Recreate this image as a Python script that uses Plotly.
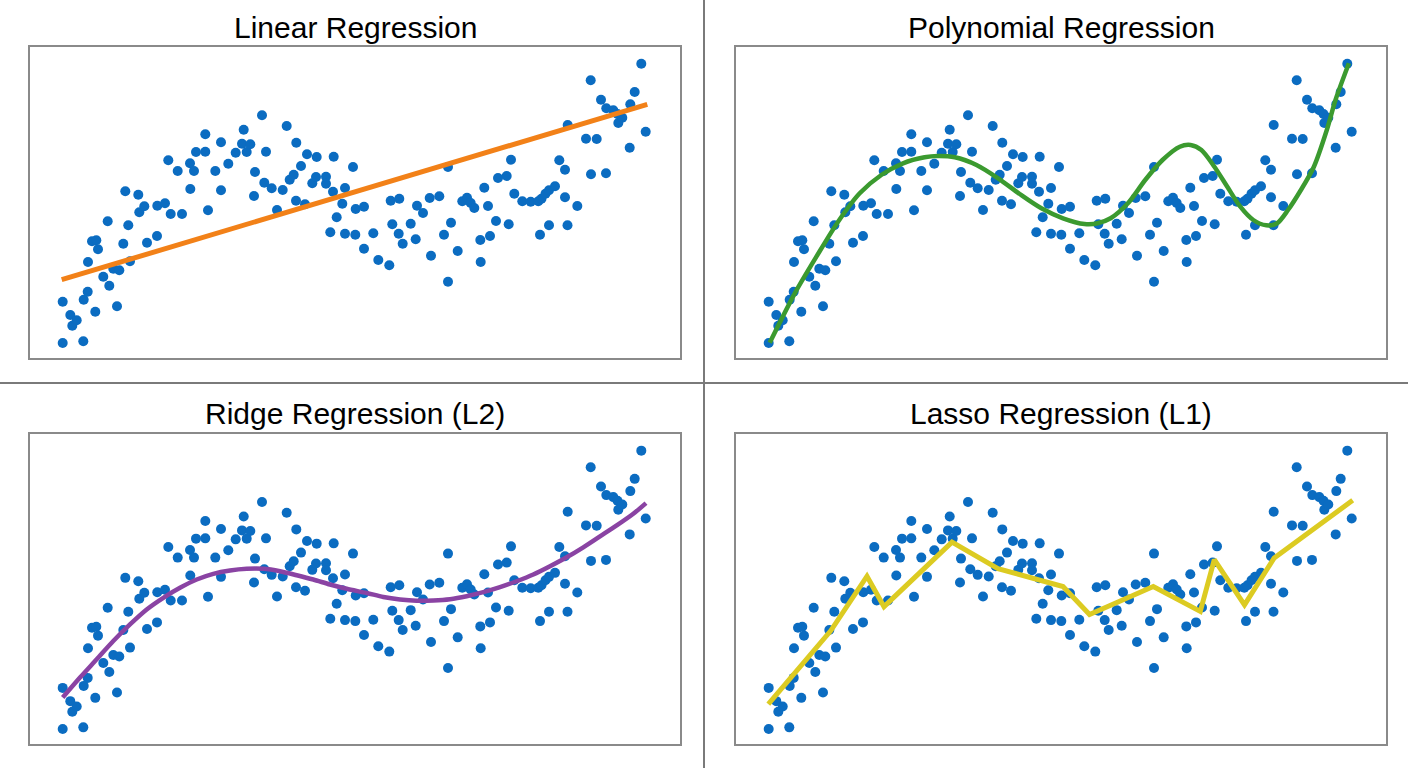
import plotly.graph_objects as go

# Scatter data (shared by all four panels), arbitrary units
x_pts = [3.27, 3.27, 4.03, 4.23, 4.67, 5.33, 5.37, 5.77, 5.80, 6.20, 6.53, 6.63, 6.80, 7.33, 7.77, 7.93,
         8.33, 8.70, 8.93, 9.33, 9.53, 9.83, 10.00, 10.83, 10.93, 11.43, 11.70, 12.70, 12.73, 13.50, 13.83,
         14.07, 14.77, 15.20, 16.00, 16.03, 16.40, 16.60, 17.53, 17.53, 17.80, 18.53, 19.10, 19.10, 19.83,
         20.57, 21.20, 21.37, 21.67, 22.03, 22.40, 22.50, 23.20, 23.43, 23.60, 24.17, 24.70, 25.27, 25.67,
         25.97, 26.37, 26.60, 26.63, 27.10, 27.50, 27.70, 28.23, 28.60, 28.67, 29.60, 29.60, 30.03, 30.30,
         30.37, 30.67, 31.23, 31.50, 31.50, 32.30, 32.53, 32.57, 33.40, 33.40, 34.33, 34.83, 35.93, 36.07,
         36.23, 36.87, 36.93, 37.27, 38.07, 38.57, 38.70, 39.30, 39.97, 40.10, 40.93, 41.40, 41.80, 41.80,
         42.10, 42.77, 43.23, 43.70, 44.07, 44.43, 45.03, 45.07, 45.43, 45.80, 46.00, 46.60, 46.80, 47.67,
         47.87, 48.10, 48.43, 49.23, 50.07, 50.83, 51.00, 51.15, 51.55, 51.90, 51.90, 52.50, 52.93, 53.50,
         53.50, 53.75, 53.77, 54.73, 55.60, 56.07, 56.10, 56.67, 57.10, 57.60, 57.63, 58.33, 58.75, 58.83,
         59.23, 59.97, 60.03, 60.47, 61.13, 61.57]
y_pts = [5.63, 1.50, 4.30, 3.23, 3.77, 1.67, 5.83, 6.63, 9.60, 11.67, 4.63, 11.77, 10.87, 8.13, 13.67, 7.23,
         8.93, 5.17, 8.77, 11.43, 16.67, 13.27, 9.67, 16.33, 14.57, 15.17, 11.53, 12.20, 15.23, 15.47, 19.77,
         14.40, 18.70, 14.40, 19.47, 16.90, 18.70, 20.60, 20.63, 22.37, 14.77, 18.70, 21.57, 16.77, 19.43,
         20.53, 21.43, 22.83, 20.60, 21.37, 16.20, 18.60, 24.27, 17.53, 20.63, 16.97, 14.80, 16.80, 23.20,
         17.83, 18.33, 15.73, 21.53, 19.20, 15.37, 20.37, 17.47, 18.10, 20.10, 18.13, 17.43, 12.57, 16.63,
         20.13, 14.07, 15.43, 17.00, 12.43, 19.10, 12.33, 14.90, 15.13, 10.93, 12.47, 9.80, 9.27, 15.73,
         13.37, 12.43, 15.93, 11.43, 13.43, 11.87, 15.23, 14.50, 16.00, 10.23, 16.17, 12.33, 19.10, 7.63,
         13.53, 10.70, 15.67, 16.03, 15.50, 15.00, 11.80, 9.60, 17.03, 15.20, 12.20, 13.70, 18.00, 18.20,
         13.37, 19.83, 16.43, 15.67, 15.63, 15.67, 12.33, 15.93, 16.43, 13.27, 16.77, 17.17, 19.77, 18.83,
         16.07, 13.27, 23.30, 15.20, 21.93, 27.77, 18.37, 21.90, 25.83, 18.47, 24.97, 24.77, 24.40, 23.50,
         24.03, 21.03, 25.37, 26.60, 29.43, 22.63]

# Linear fit
lin_x = [3.17, 61.73]
lin_y = [7.83, 25.37]

# Polynomial fit curve
poly_x = [3.37, 5.88, 8.04, 10.21, 12.37, 14.53, 16.70, 18.86, 20.16, 21.89, 24.05, 26.21, 28.37, 30.54,
          32.70, 34.86, 36.16, 37.46, 39.19, 40.92, 42.65, 44.38, 45.46, 46.54, 47.84, 49.13, 50.43, 51.73,
          53.03, 54.11, 55.20, 56.49, 57.79, 59.08, 59.95, 61.29]
poly_y = [1.53, 6.47, 10.13, 13.63, 16.47, 18.30, 19.47, 20.07, 20.20, 20.07, 19.30, 17.97, 16.40, 14.97,
          13.97, 13.40, 13.47, 13.97, 15.47, 17.80, 19.80, 21.13, 21.30, 20.80, 19.13, 17.13, 15.13, 13.80,
          13.27, 13.47, 14.80, 16.80, 19.13, 22.80, 25.80, 29.47]

# Ridge fit curve
ridge_x = [3.27, 5.00, 6.67, 8.33, 10.00, 11.67, 13.33, 15.00, 16.67, 18.33, 20.00, 21.67, 23.33, 25.00,
           26.67, 28.33, 30.00, 31.67, 33.67, 35.33, 37.00, 38.67, 40.33, 42.00, 43.67, 45.33, 47.00, 48.67,
           50.33, 52.00, 53.67, 55.33, 57.00, 58.67, 60.33, 61.60]
ridge_y = [4.67, 6.67, 8.50, 10.33, 12.00, 13.50, 14.67, 15.67, 16.50, 17.07, 17.40, 17.57, 17.57, 17.33,
           16.93, 16.50, 16.00, 15.57, 15.15, 14.75, 14.50, 14.37, 14.40, 14.53, 14.83, 15.23, 15.73, 16.33,
           17.00, 17.83, 18.73, 19.73, 20.83, 21.93, 23.10, 24.17]

# Lasso fit (piecewise)
lasso_x = [3.23, 9.47, 13.10, 14.80, 21.60, 26.20, 32.70, 35.35, 41.73, 46.43, 47.83, 50.85, 53.82, 61.67]
lasso_y = [4.00, 11.35, 16.83, 13.78, 20.25, 17.60, 15.80, 13.00, 15.80, 13.30, 18.50, 13.95, 18.67, 24.45]

titles = ["Linear Regression", "Polynomial Regression", "Ridge Regression (L2)", "Lasso Regression (L1)"]
fit_x = [lin_x, poly_x, ridge_x, lasso_x]
fit_y = [lin_y, poly_y, ridge_y, lasso_y]
fit_colors = ["#f28118", "#3b9a2f", "#8a43a3", "#dccb22"]
fit_shapes = ["linear", "spline", "spline", "linear"]
fit_widths = [5, 4.5, 4.5, 5]

W, H = 1408, 768
# panel frames in pixels: (left, right, top, bottom)
frames = [(30, 680, 47, 358), (736, 1386, 47, 358), (30, 680, 434, 744), (736, 1386, 434, 744)]
title_y = [27, 27, 413, 413]

X_RANGE = [0, 65]
Y_RANGE = [0, 31.1]

fig = go.Figure()
layout = {}
annotations = []
for i in range(4):
    suffix = "" if i == 0 else str(i + 1)
    xa, ya = "x" + suffix, "y" + suffix
    l, r, t, b = frames[i]
    axis_common = dict(showgrid=False, zeroline=False, showticklabels=False, ticks="",
                       showline=True, mirror=True, linecolor="#8a8a8a", linewidth=1.5, fixedrange=True)
    layout["xaxis" + suffix] = dict(domain=[l / W, r / W], range=X_RANGE, anchor=ya, **axis_common)
    layout["yaxis" + suffix] = dict(domain=[1 - b / H, 1 - t / H], range=Y_RANGE, anchor=xa, **axis_common)
    fig.add_trace(go.Scatter(x=x_pts, y=y_pts, mode="markers", xaxis=xa, yaxis=ya,
                             marker=dict(size=10, color="#0b6cc1", line=dict(width=0)),
                             showlegend=False, hoverinfo="skip"))
    fig.add_trace(go.Scatter(x=fit_x[i], y=fit_y[i], mode="lines", xaxis=xa, yaxis=ya,
                             line=dict(color=fit_colors[i], width=fit_widths[i], shape=fit_shapes[i],
                                       smoothing=0.8 if fit_shapes[i] == "spline" else None),
                             showlegend=False, hoverinfo="skip"))
    annotations.append(dict(text=titles[i], x=(l + r) / 2 / W, y=1 - title_y[i] / H, xref="paper",
                            yref="paper", xanchor="center", yanchor="middle", showarrow=False,
                            font=dict(family="Liberation Sans, Arial, sans-serif", size=30, color="#000000")))

shapes = [
    dict(type="line", xref="paper", yref="paper", x0=704 / W, x1=704 / W, y0=0, y1=1,
         line=dict(color="#7a7a7a", width=2)),
    dict(type="line", xref="paper", yref="paper", x0=0, x1=1, y0=1 - 383 / H, y1=1 - 383 / H,
         line=dict(color="#7a7a7a", width=2)),
]

fig.update_layout(width=W, height=H, margin=dict(l=0, r=0, t=0, b=0),
                  paper_bgcolor="white", plot_bgcolor="white",
                  annotations=annotations, shapes=shapes, **layout)

fig.write_html("out.html", config={"displayModeBar": False})
